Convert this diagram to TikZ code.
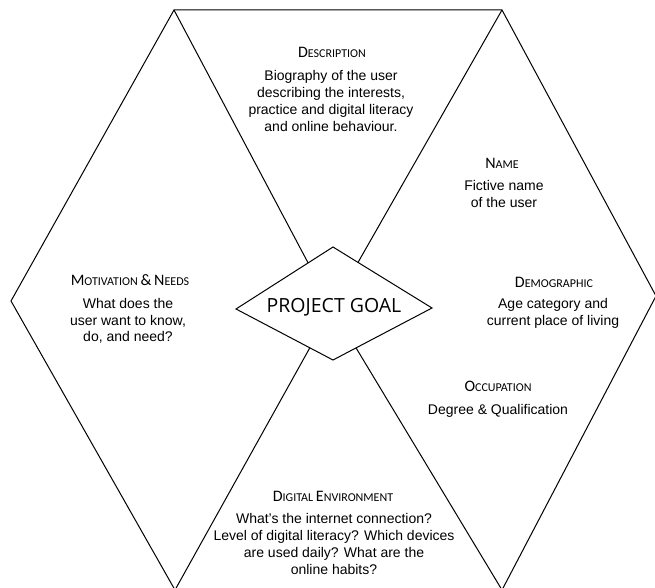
\documentclass[tikz,border=0pt]{standalone}
\usepackage{fontspec}
\setmainfont{Liberation Sans}
\newfontfamily\headfont{Carlito}
\newfontfamily\goalfont{Open Sans}
\usetikzlibrary{positioning}

% fake small caps for the headings
\newcommand{\capsc}[2]{{\headfont\fontsize{16}{16}\selectfont #1\fontsize{12}{12}\selectfont #2}}

\begin{document}
\begin{tikzpicture}[x=1pt,y=-1pt]
\tikzstyle{edge}=[line width=1pt,line join=miter]
\tikzstyle{head}=[inner sep=0pt,align=center]
\tikzstyle{body}=[inner sep=0pt,align=center,font=\fontsize{14}{16.8}\selectfont]
\useasboundingbox (0,0) rectangle (655,588);

% hexagon corners and centre
\coordinate (tl) at (174,10);
\coordinate (tr) at (502,10);
\coordinate (r) at (656,296);
\coordinate (br) at (502,590);
\coordinate (bl) at (175,590);
\coordinate (l) at (11,301);
\coordinate (c) at (332,308);

\draw[edge] (bl) -- (l) -- (tl) -- (tr) -- (r) -- (br);
\draw[edge] (tl) -- (c) (tr) -- (c) (bl) -- (c) (br) -- (c);

% the goal in the middle
\coordinate (dt) at (333,247);
\coordinate (dr) at (432,308);
\coordinate (db) at (333,360);
\coordinate (dl) at (236,309);
\filldraw[edge,fill=white] (dt) -- (dr) -- (db) -- (dl) -- cycle;
\node[inner sep=0pt,font=\goalfont\fontsize{19.5}{19.5}\selectfont] (goal) at (334,307) {PROJECT GOAL};

\node[head] (desc) at (332,52) {\capsc{D}{ESCRIPTION}};
\node[body] (desctext) at (331,101) {Biography of the user\\
                                     describing the interests,\\
                                     practice and digital literacy\\
                                     and online behaviour.};

\node[head] (name) at (502,163) {\capsc{N}{AME}};
\node[body] (nametext) at (504,194) {Fictive name\\of the user};

\node[head] (demo) at (554,282) {\capsc{D}{EMOGRAPHIC}};
\node[body] (demotext) at (553,313) {Age category and\\current place of living};

\node[head] (occ) at (498,386) {\capsc{O}{CCUPATION}};
\node[body] (occtext) at (498,411) {Degree \& Qualification};

\node[head] (motiv) at (130,280) {\capsc{M}{OTIVATION} \capsc{\&}{} \capsc{N}{EEDS}};
\node[body] (motivtext) at (128,321) {What does the\\
                                      user want to know,\\
                                      do, and need?};

\node[head] (digi) at (333,496) {\capsc{D}{IGITAL} \capsc{E}{NVIRONMENT}};
\node[body] (digitext) at (334,544) {What's the internet connection?\\
                                     Level of digital literacy? Which devices\\
                                     are used daily? What are the\\
                                     online habits?};
\end{tikzpicture}
\end{document}
